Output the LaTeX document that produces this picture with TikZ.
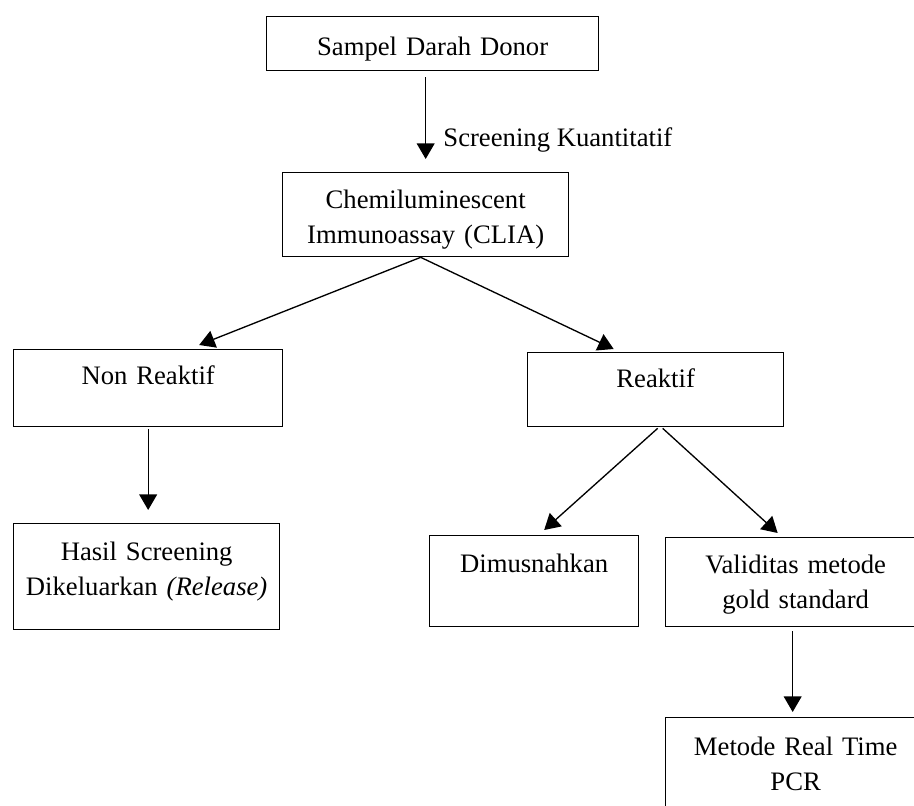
\documentclass[tikz,border=0pt]{standalone}
\usepackage{fontspec}
\setmainfont{Liberation Serif}
\usetikzlibrary{arrows.meta,calc}

\begin{document}
\begin{tikzpicture}[x=0.45pt, y=-0.45pt, font=\fontsize{12}{15.75}\selectfont,
        kotak/.style={draw, line width=0.6pt, anchor=north west, inner sep=0pt, align=center},
        panah/.style={line width=0.6pt, -{Triangle[length=7pt, width=8pt]}}]
        \useasboundingbox (0, 0) rectangle (914, 806);
        \clip (0, 0) rectangle (914, 806);
        \node[kotak, text width=149.4pt, text height=17.55pt, text depth=6.75pt] (sampel) at (266, 16) {Sampel Darah Donor};
        \node[kotak, text width=128.7pt, text height=16.2pt, text depth=21.6pt] (clia) at (282, 172) {Chemiluminescent\\Immunoassay (CLIA)};
        \node[kotak, text width=121.05pt, text height=15.75pt, text depth=18.9pt] (nonreaktif) at (13, 349) {Non Reaktif};
        \node[kotak, text width=115.2pt, text height=15.75pt, text depth=17.55pt] (reaktif) at (527, 352) {Reaktif};
        \node[kotak, text width=119.7pt, text height=16.65pt, text depth=31.05pt] (hasil) at (13, 523) {Hasil Screening\\Dikeluarkan \textit{(Release)}};
        \node[kotak, text width=94.05pt, text height=16.65pt, text depth=24.3pt] (dimusnahkan) at (429, 535) {Dimusnahkan};
        \node[kotak, text width=117pt, text height=16.2pt, text depth=23.85pt] (validitas) at (665, 537) {Validitas metode\\gold standard};
        \node[kotak, text width=117pt, text height=17.1pt, text depth=36pt] (pcr) at (665, 717) {Metode Real Time\\PCR};
        \node[anchor=base west, inner sep=0pt] (screening) at (443, 147) {Screening Kuantitatif};
        \draw[panah, shorten <=2.7pt, shorten >=5.85pt] (sampel.south -| clia.north) -- (clia.north);
        \draw[panah] ($(clia.south)+(-5, 0)$) -- ($(nonreaktif.north)+(51, -4)$);
        \draw[panah] ($(clia.south)+(-5, 0)$) -- ($(reaktif.north)+(-42, -3)$);
        \draw[panah, shorten <=0.9pt, shorten >=5.85pt] (nonreaktif.south) -- (hasil.north -| nonreaktif.south);
        \draw[panah] ($(reaktif.south)+(2, 1)$) -- ($(dimusnahkan.north)+(10, -5)$);
        \draw[panah] ($(reaktif.south)+(7, 1)$) -- ($(validitas.north)+(-18, -4)$);
        \draw[panah, shorten <=1.8pt, shorten >=2.25pt] ($(validitas.south)+(-3, 0)$) -- ($(pcr.north)+(-3, 0)$);
    \end{tikzpicture}
\end{document}
